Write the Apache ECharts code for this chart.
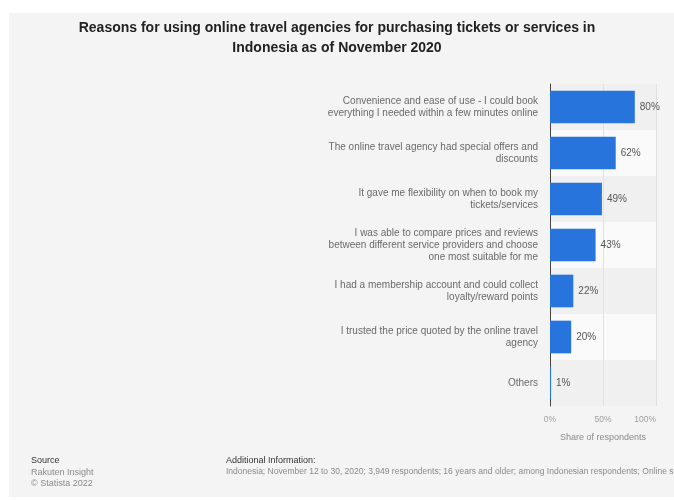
<!DOCTYPE html>
<html>
<head>
<meta charset="utf-8">
<script src="https://cdn.jsdelivr.net/npm/echarts@6/dist/echarts.min.js"></script>
<style>
  html, body { margin: 0; padding: 0; background: #ffffff; }
  #chart { width: 674px; height: 501px; }
</style>
</head>
<body>
<div id="chart"></div>
<script>
// Survey answers (multiple responses allowed), share of respondents in percent
const categories = [
  'Convenience and ease of use - I could book\neverything I needed within a few minutes online',
  'The online travel agency had special offers and\ndiscounts',
  'It gave me flexibility on when to book my\ntickets/services',
  'I was able to compare prices and reviews\nbetween different service providers and choose\none most suitable for me',
  'I had a membership account and could collect\nloyalty/reward points',
  'I trusted the price quoted by the online travel\nagency',
  'Others'
];
const shares = [80, 62, 49, 43, 22, 20, 1];
const axisTicks = [0, 50, 100];

const titleText = 'Reasons for using online travel agencies for purchasing tickets or services in\nIndonesia as of November 2020';
const axisName = 'Share of respondents';
const sourceLines = ['Rakuten Insight', '\u00A9 Statista 2022'];
const additionalInfo = 'Indonesia; November 12 to 30, 2020; 3,949 respondents; 16 years and older; among Indonesian respondents; Online survey';

const FONT = '"Liberation Sans", Arial, Helvetica, sans-serif';

const chart = echarts.init(document.getElementById('chart'), null, { renderer: 'canvas' });

chart.setOption({
  backgroundColor: '#ffffff',
  animation: false,
  textStyle: { fontFamily: FONT },
  title: {
    text: titleText,
    left: 'center',
    top: 13,
    textStyle: {
      fontFamily: FONT,
      fontSize: 14,
      fontWeight: 'bold',
      color: '#222222',
      lineHeight: 20
    },
    z: 10
  },
  graphic: [
    {
      type: 'rect',
      z: -10,
      silent: true,
      shape: { x: 9, y: 13, width: 665, height: 484 },
      style: { fill: '#f4f4f4' }
    },
    {
      type: 'text', left: 31, top: 456,
      style: { text: 'Source', fontFamily: FONT, fontSize: 9, fill: '#333333' }
    },
    {
      type: 'text', left: 31, top: 467,
      style: { text: sourceLines.join('\n'), fontFamily: FONT, fontSize: 9, lineHeight: 11, fill: '#8a8a8a' }
    },
    {
      type: 'text', left: 226, top: 456,
      style: { text: 'Additional Information:', fontFamily: FONT, fontSize: 9, fill: '#333333' }
    },
    {
      type: 'text', left: 226, top: 467,
      style: { text: additionalInfo, fontFamily: FONT, fontSize: 8.5, fill: '#8a8a8a' }
    }
  ],
  grid: {
    left: 550,
    right: 18,
    top: 84,
    bottom: 95,
    containLabel: false
  },
  xAxis: {
    type: 'value',
    min: axisTicks[0],
    max: axisTicks[axisTicks.length - 1],
    interval: axisTicks[1] - axisTicks[0],
    name: axisName,
    nameLocation: 'middle',
    nameGap: 27,
    nameTextStyle: { fontFamily: FONT, fontSize: 9, color: '#8a8a8a' },
    axisLine: { show: false },
    axisTick: { show: false },
    axisLabel: {
      formatter: '{value}%',
      fontFamily: FONT,
      fontSize: 8.5,
      color: '#a0a0a0',
      margin: 9,
      alignMaxLabel: 'right'
    },
    splitLine: { show: true, lineStyle: { color: '#e1e1e1', width: 1 } }
  },
  yAxis: {
    type: 'category',
    data: categories,
    inverse: true,
    axisLine: { show: true, lineStyle: { color: '#444444', width: 1 } },
    axisTick: { show: false },
    axisLabel: {
      fontFamily: FONT,
      fontSize: 10,
      lineHeight: 12,
      color: '#6a6a6a',
      margin: 12,
      align: 'right'
    },
    splitArea: { show: true, areaStyle: { color: ['#f0f0f0', '#fafafa'] } }
  },
  series: [{
    type: 'bar',
    data: shares,
    barCategoryGap: '29%',
    itemStyle: { color: '#2775dc' },
    label: {
      show: true,
      position: 'right',
      distance: 5,
      formatter: '{c}%',
      fontFamily: FONT,
      fontSize: 10,
      color: '#555555'
    }
  }]
});
</script>
</body>
</html>
